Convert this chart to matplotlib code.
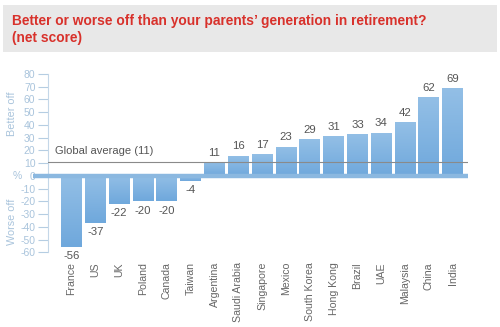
import matplotlib
matplotlib.use("Agg")
import matplotlib.pyplot as plt
import numpy as np
from matplotlib.patches import Rectangle
import matplotlib.transforms as mtransforms
from matplotlib.colors import LinearSegmentedColormap

plt.rcParams['font.family'] = ['Liberation Sans', 'DejaVu Sans']

countries = ["France", "US", "UK", "Poland", "Canada", "Taiwan", "Argentina",
             "Saudi Arabia", "Singapore", "Mexico", "South Korea", "Hong Kong",
             "Brazil", "UAE", "Malaysia", "China", "India"]
scores = [-56, -37, -22, -20, -20, -4, 11, 16, 17, 23, 29, 31, 33, 34, 42, 62, 69]
global_avg = 11
yticks = [80, 70, 60, 50, 40, 30, 20, 10, 0, -10, -20, -30, -40, -50, -60]

W, H = 500, 327
fig = plt.figure(figsize=(W / 100, H / 100), dpi=100)

# title box
fig.patches.append(Rectangle((3 / W, 1 - 52 / H), 494 / W, 47 / H,
                             transform=fig.transFigure, facecolor="#e8e8e8",
                             edgecolor="none", zorder=0))
fig.text(12 / W, 1 - 25 / H, "Better or worse off than your parents\u2019 generation in retirement?",
         color="#d8312b", fontsize=9.95, fontweight="bold", va="baseline", ha="left")
fig.text(12 / W, 1 - 42 / H, "(net score)",
         color="#d8312b", fontsize=9.95, fontweight="bold", va="baseline", ha="left")

ax = fig.add_axes([48 / W, 1 - 252.3 / H, 420 / W, 178.3 / H])
x = np.arange(len(countries))
width = 0.88

# gradient bars
grad = np.linspace(0, 1, 100).reshape(-1, 1)
cmap = LinearSegmentedColormap.from_list("b", ["#6fa8dc", "#93bfe6"])
bars = ax.bar(x, scores, width=width, color="#80b3e0", zorder=2)
for b in bars:
    x0, y0 = b.get_x(), b.get_y()
    w, h = b.get_width(), b.get_height()
    ylo, yhi = min(y0, y0 + h), max(y0, y0 + h)
    im = ax.imshow(grad, extent=(x0, x0 + w, ylo, yhi), origin="lower",
                   cmap=cmap, aspect="auto", zorder=2.1)
    im.set_clip_path(b)
ax.set_xlim(-0.99, 16.64)
ax.set_ylim(-60, 80)

for xi, v in zip(x, scores):
    if v >= 0:
        ax.annotate(str(v), (xi, v), xytext=(0, 3), textcoords="offset points",
                    ha="center", va="bottom", fontsize=8.2, color="#555555")
    else:
        ax.annotate(str(v), (xi, v), xytext=(0, -3), textcoords="offset points",
                    ha="center", va="top", fontsize=8.2, color="#555555")

# global average line
ax.axhline(global_avg, color="#8a8a8a", lw=0.8, zorder=3)
ax.annotate("Global average (11)", (-0.7, global_avg), xytext=(0, 4),
            textcoords="offset points", ha="left", va="bottom",
            fontsize=8, color="#555555")

# zero band
trans = mtransforms.blended_transform_factory(ax.transAxes, ax.transData)
ax.plot([-15 / 420, 1.0], [0, 0], transform=trans, color="#8bb8e0", lw=3.2,
        solid_capstyle="butt", clip_on=False, zorder=4)

ax.set_yticks(yticks)
ax.set_yticklabels([str(t) for t in yticks])
ax.tick_params(axis="y", colors="#b5cde2", labelcolor="#a9c4dc", labelsize=7.5,
               length=7, width=0.8, pad=2)
ax.set_xticks(x)
ax.set_xticklabels(countries, rotation=90, fontsize=7.6, color="#666666")
ax.tick_params(axis="x", length=0, pad=7)
for s in ["top", "right", "bottom"]:
    ax.spines[s].set_visible(False)
ax.spines["left"].set_color("#c4d7e8")
ax.spines["left"].set_linewidth(0.8)

ax.text(-36 / 420, 49, "Better off", transform=trans, rotation=90,
        ha="center", va="center", fontsize=7.8, color="#a9c4dc")
ax.text(-36 / 420, -36, "Worse off", transform=trans, rotation=90,
        ha="center", va="center", fontsize=7.8, color="#a9c4dc")
ax.text(-31 / 420, 0, "%", transform=trans, ha="center", va="center",
        fontsize=7.5, color="#a9c4dc")

fig.savefig("out.png", dpi=100)
